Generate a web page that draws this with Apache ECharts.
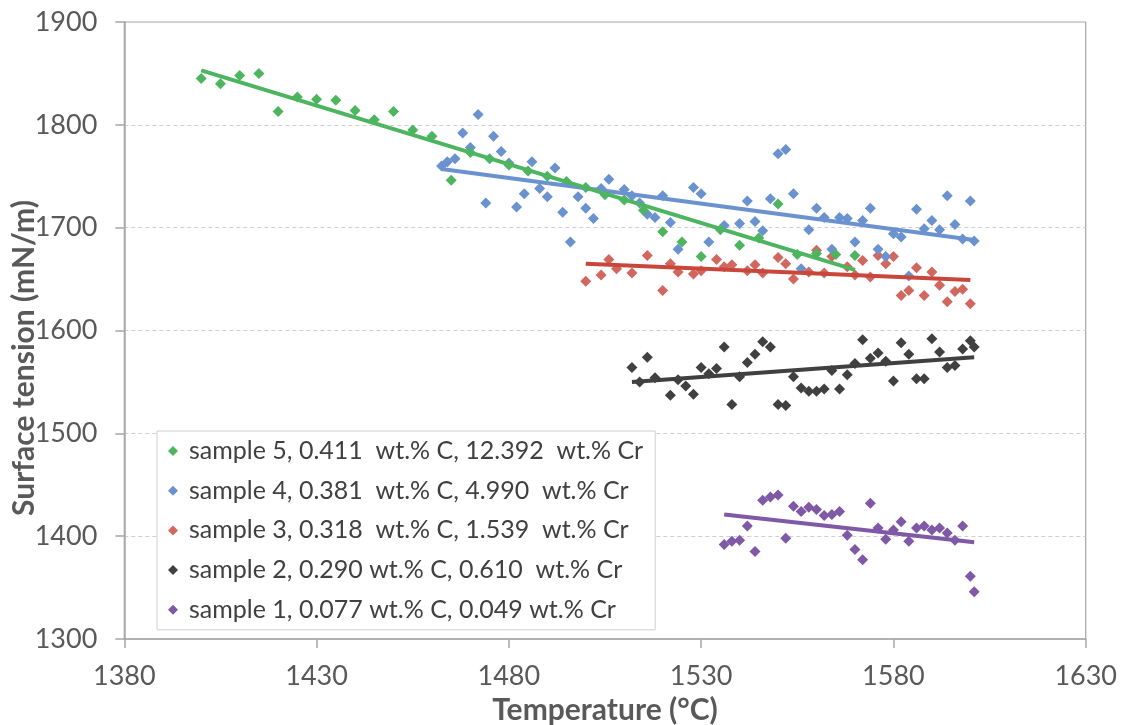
<!DOCTYPE html>
<html>
<head>
<meta charset="utf-8">
<script src="https://cdn.jsdelivr.net/npm/echarts@6/dist/echarts.min.js"></script>
<style>
  html, body { margin: 0; padding: 0; background: #ffffff; }
  #chart { width: 1123px; height: 725px; }
</style>
</head>
<body>
<div id="chart"></div>
<script>
// ---- data ----
const seriesNames = [
  'sample 5, 0.411  wt.% C, 12.392  wt.% Cr',
  'sample 4, 0.381  wt.% C, 4.990  wt.% Cr',
  'sample 3, 0.318  wt.% C, 1.539  wt.% Cr',
  'sample 2, 0.290 wt.% C, 0.610  wt.% Cr',
  'sample 1, 0.077 wt.% C, 0.049 wt.% Cr'
];

const xTicks = [1380, 1430, 1480, 1530, 1580, 1630];
const yTicks = [1300, 1400, 1500, 1600, 1700, 1800, 1900];

// sample 5
const s5Temp = [1400,1405,1410,1415,1420,1425,1430,1435,1440,1445,1450,1455,1460,1465,1470,1475,1480,1485,1490,1495,1500,1505,1510,1515,1520,1525,1530,1535,1540,1545,1550,1555,1560,1565,1570];
const s5Tens = [1845,1840,1848,1850,1813,1827,1825,1824,1814,1805,1813,1795,1789,1746,1773,1767,1761,1755,1750,1745,1739,1732,1727,1717,1696,1686,1672,1698,1683,1690,1723,1674,1675,1674,1673];
// sample 4
const s4Temp = [1462.5,1464,1466,1468,1470,1472,1474,1476,1478,1480,1482,1484,1486,1488,1490,1492,1494,1496,1498,1500,1502,1504,1506,1510,1512,1514,1516,1518,1520,1522,1524,1528,1530,1532,1536,1540,1542,1544,1546,1548,1550,1552,1554,1556,1558,1560,1562,1564,1566,1568,1570,1572,1574,1576,1578,1580,1582,1584,1586,1588,1590,1592,1594,1596,1598,1600,1601];
const s4Tens = [1760,1764,1767,1792,1778,1810,1724,1789,1774,1763,1720,1733,1764,1738,1730,1758,1715,1686,1730,1719,1709,1738,1747,1737,1731,1724,1713,1710,1731,1705,1679,1739,1733,1686,1702,1704,1726,1706,1697,1728,1772,1776,1733,1660,1698,1719,1710,1679,1710,1709,1686,1707,1719,1679,1672,1694,1691,1653,1718,1699,1707,1698,1731,1703,1689,1726,1687];
// sample 3
const s3Temp = [1500,1504,1506,1508,1512,1516,1520,1522,1524,1528,1530,1534,1536,1538,1542,1544,1546,1550,1552,1554,1558,1560,1562,1564,1568,1570,1572,1574,1576,1578,1580,1582,1584,1586,1588,1590,1592,1594,1596,1598,1600];
const s3Tens = [1648,1654,1669,1660,1656,1673,1639,1665,1657,1655,1658,1669,1662,1664,1658,1664,1656,1671,1665,1650,1657,1678,1656,1672,1662,1654,1668,1652,1673,1665,1672,1634,1639,1661,1634,1657,1644,1628,1638,1640,1626];
// sample 2
const s2Temp = [1512,1514,1516,1518,1522,1524,1526,1528,1530,1532,1534,1536,1538,1540,1542,1544,1546,1548,1550,1552,1554,1556,1558,1560,1562,1564,1566,1568,1570,1572,1574,1576,1578,1580,1582,1584,1586,1588,1590,1592,1594,1596,1598,1600,1601];
const s2Tens = [1564,1550,1574,1554,1537,1552,1546,1538,1564,1558,1563,1584,1528,1555,1569,1577,1589,1584,1528,1527,1555,1544,1541,1541,1543,1561,1543,1557,1568,1591,1573,1578,1570,1551,1588,1577,1553,1553,1592,1579,1564,1566,1582,1590,1584];
// sample 1
const s1Temp = [1536,1538,1540,1542,1544,1546,1548,1550,1552,1554,1556,1558,1560,1562,1564,1566,1568,1570,1572,1574,1576,1578,1580,1582,1584,1586,1588,1590,1592,1594,1596,1598,1600,1601];
const s1Tens = [1392,1395,1396,1410,1385,1435,1438,1440,1398,1429,1424,1428,1426,1420,1421,1424,1401,1387,1377,1432,1408,1397,1406,1414,1395,1408,1410,1406,1408,1403,1396,1410,1361,1346];

// linear trend lines (end points)
const s5TrendTemp = [1400, 1570];  const s5TrendTens = [1853, 1659];
const s4TrendTemp = [1462.5, 1601]; const s4TrendTens = [1757, 1688];
const s3TrendTemp = [1500, 1600];  const s3TrendTens = [1665, 1649];
const s2TrendTemp = [1512, 1601];  const s2TrendTens = [1550, 1574];
const s1TrendTemp = [1536, 1601];  const s1TrendTens = [1421, 1394];

const markerColors = ['#4db560', '#6a92cf', '#d2675f', '#404040', '#7f58a6'];
const lineColors   = ['#4db560', '#6a92cf', '#c9463b', '#404040', '#7f58a6'];

// ---- build options ----
const zip = (a, b) => a.map((v, i) => [v, b[i]]);
const pts = [
  zip(s5Temp, s5Tens), zip(s4Temp, s4Tens), zip(s3Temp, s3Tens),
  zip(s2Temp, s2Tens), zip(s1Temp, s1Tens)
];
const trends = [
  zip(s5TrendTemp, s5TrendTens), zip(s4TrendTemp, s4TrendTens), zip(s3TrendTemp, s3TrendTens),
  zip(s2TrendTemp, s2TrendTens), zip(s1TrendTemp, s1TrendTens)
];

const FONT = 'Lato, "Open Sans", sans-serif';
const series = [];
for (let i = 4; i >= 0; i--) {
  series.push({
    name: seriesNames[i], type: 'scatter', data: pts[i],
    symbol: 'diamond', symbolSize: 11,
    itemStyle: { color: markerColors[i], opacity: 1 },
    z: 2
  });
}
for (let i = 4; i >= 0; i--) {
  series.push({
    name: 'trend ' + (5 - i), type: 'line', data: trends[i],
    symbol: 'none', silent: true,
    lineStyle: { color: lineColors[i], width: 4 },
    z: 3
  });
}

const chart = echarts.init(document.getElementById('chart'), null, { renderer: 'canvas' });
chart.setOption({
  animation: false,
  backgroundColor: '#ffffff',
  textStyle: { fontFamily: FONT },
  grid: {
    left: 124.3, right: 37.3, top: 22, bottom: 86, containLabel: false, outerBoundsMode: 'none',
    show: true, borderColor: '#a6a6a6', borderWidth: 1.2, backgroundColor: 'transparent'
  },
  xAxis: {
    type: 'value', min: xTicks[0], max: xTicks[xTicks.length - 1], interval: 50,
    name: 'Temperature (°C)', nameLocation: 'middle', nameGap: 53,
    nameTextStyle: { fontFamily: FONT, fontWeight: 'bold', fontSize: 30, color: '#595959', verticalAlign: 'top' },
    axisLine: { show: true, onZero: false, lineStyle: { color: '#a6a6a6', width: 1.5 } },
    axisTick: { show: true, inside: false, length: 9, lineStyle: { color: '#a6a6a6', width: 1.5 } },
    axisLabel: { fontFamily: FONT, fontSize: 27, color: '#595959', margin: 24, formatter: v => String(v) },
    splitLine: { show: false }
  },
  yAxis: {
    type: 'value', min: yTicks[0], max: yTicks[yTicks.length - 1], interval: 100,
    axisLine: { show: true, onZero: false, lineStyle: { color: '#a6a6a6', width: 1.5 } },
    axisTick: { show: true, inside: false, length: 9, lineStyle: { color: '#a6a6a6', width: 1.5 } },
    axisLabel: { fontFamily: FONT, fontSize: 27, color: '#595959', margin: 27, formatter: v => String(v) },
    splitLine: {
      show: true, showMaxLine: false, showMinLine: false,
      lineStyle: { color: '#cfcfcf', width: 1.2, type: [4, 3] }
    }
  },
  legend: {
    data: seriesNames.map(n => ({ name: n, icon: 'diamond' })),
    orient: 'vertical', left: 157, top: 431,
    padding: [7, 12, 7, 11], itemGap: 13.7,
    itemWidth: 10, itemHeight: 10,
    borderColor: '#d0d0d0', borderWidth: 1, backgroundColor: '#ffffff',
    textStyle: { fontFamily: FONT, fontSize: 25, color: '#404040', lineHeight: 26, padding: [0, 0, 0, 6] },
    selectedMode: false
  },
  graphic: [{
    type: 'text', x: 24, y: 358, rotation: Math.PI / 2,
    style: {
      text: 'Surface tension (mN/m)', fontFamily: FONT, fontWeight: 'bold', fontSize: 30,
      fill: '#595959', textAlign: 'center', textVerticalAlign: 'middle'
    }
  }],
  series: series
});
</script>
</body>
</html>
